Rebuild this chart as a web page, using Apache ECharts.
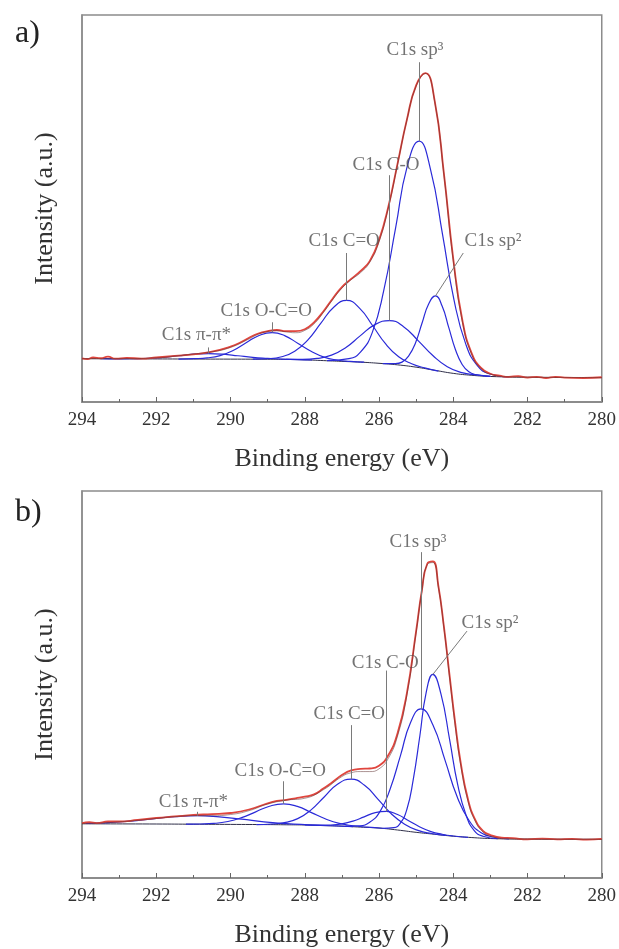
<!DOCTYPE html>
<html>
<head>
<meta charset="utf-8">
<script src="https://cdn.jsdelivr.net/npm/echarts@6/dist/echarts.min.js"></script>
<style>
  html, body { margin: 0; padding: 0; background: #fff; }
  #chart { width: 619px; height: 949px; }
</style>
</head>
<body>
<div id="chart"></div>
<script>
// ---------- C1s XPS spectra: binding energy (eV) vs intensity (a.u.) ----------

// Panel a)
const rawA = [[280, 6.4],[280.5, 6.2],[281, 6.3],[281.25, 6.5],[281.5, 6.2],[281.75, 6.5],[282, 6.3],[282.25, 6.7],[282.5, 6.5],[282.75, 6.8],[283, 7.3],[283.25, 8.8],[283.5, 12.5],[283.75, 20.9],[284, 37.0],[284.25, 58.9],[284.5, 77.8],[284.75, 85.0],[285, 81.8],[285.25, 72.9],[285.5, 61.6],[285.75, 50.4],[286, 41.8],[286.25, 36.4],[286.5, 33.8],[286.75, 31.8],[287, 29.7],[287.25, 26.7],[287.5, 23.4],[287.75, 20.6],[288, 18.8],[288.25, 18.3],[288.5, 18.3],[288.75, 18.6],[289, 18.3],[289.25, 17.7],[289.5, 16.6],[289.75, 15.3],[290, 14.3],[290.5, 13.0],[291, 12.3],[291.5, 11.9],[292, 11.5],[292.4, 11.2],[292.8, 11.4],[293.1, 11.2],[293.3, 11.7],[293.5, 11.3],[293.7, 11.5],[293.85, 11.1],[294, 11.3]];
const envA = [[280, 6.3],[281, 6.35],[282, 6.4],[282.5, 6.5],[283, 7.2],[283.25, 8.6],[283.5, 12.2],[283.75, 20.5],[284, 36.5],[284.25, 58.6],[284.5, 77.6],[284.75, 84.9],[285, 81.6],[285.25, 72.8],[285.5, 61.4],[285.75, 50.1],[286, 41.4],[286.25, 36.1],[286.5, 33.4],[286.75, 31.6],[287, 29.4],[287.25, 26.4],[287.5, 23.1],[287.75, 20.2],[288, 18.5],[288.25, 17.9],[288.5, 18.1],[288.75, 18.4],[289, 18.2],[289.25, 17.5],[289.5, 16.3],[290, 14.1],[290.5, 12.96],[291, 12.4],[291.5, 11.85],[292, 11.4],[293, 11.2],[294, 11.2]];
const bgA = [[280, 6.3],[282, 6.4],[283, 6.6],[283.5, 6.9],[284, 7.4],[284.5, 8.2],[285, 9.0],[285.5, 9.6],[286, 10.0],[286.5, 10.3],[287, 10.5],[287.5, 10.7],[288, 10.9],[288.5, 11.0],[289, 11.05],[291, 11.1],[294, 11.2]];
const sp3A = [[282.5, 6.5],[283.03, 7.3],[283.35, 9.4],[283.66, 14.9],[283.98, 26.4],[284.29, 43.4],[284.61, 60.0],[284.92, 67.4],[285.24, 60.9],[285.55, 45.1],[285.87, 28.9],[286.18, 18.0],[286.5, 12.9],[286.81, 11.2],[287.4, 10.7]];
const sp2A = [[283.0, 6.6],[283.4, 7.1],[283.58, 7.8],[283.76, 9.7],[283.94, 13.5],[284.12, 19.2],[284.3, 24.8],[284.48, 27.4],[284.66, 25.4],[284.84, 20.4],[285.02, 15.2],[285.2, 11.9],[285.38, 10.3],[285.56, 9.9],[285.9, 9.9]];
const coA = [[283.0, 6.6],[283.38, 7.0],[283.77, 7.6],[284.16, 9.1],[284.55, 12.0],[284.94, 15.8],[285.33, 19.4],[285.72, 21.05],[286.11, 20.0],[286.5, 17.15],[286.89, 14.1],[287.28, 12.1],[287.67, 11.25],[288.06, 11.0],[288.5, 11.0]];
const cdoA = [[284.4, 8.0],[284.77, 8.8],[285.12, 9.9],[285.47, 11.7],[285.82, 15.0],[286.17, 19.7],[286.52, 24.2],[286.87, 26.25],[287.22, 24.5],[287.57, 20.3],[287.92, 16.0],[288.27, 13.1],[288.62, 11.7],[288.97, 11.2],[289.4, 11.1]];
const ocoA = [[286.4, 10.3],[286.78, 10.5],[287.13, 10.85],[287.48, 11.6],[287.83, 13.1],[288.18, 15.1],[288.53, 17.1],[288.88, 17.95],[289.23, 17.2],[289.58, 15.3],[289.93, 13.3],[290.28, 12.0],[290.63, 11.4],[290.98, 11.2],[291.4, 11.1]];
const piA = [[287.8, 10.85],[288.2, 10.95],[288.6, 11.1],[289.0, 11.3],[289.4, 11.55],[289.8, 11.95],[290.2, 12.35],[290.6, 12.5],[291.0, 12.35],[291.4, 11.95],[291.8, 11.55],[292.2, 11.3],[292.6, 11.2],[293.0, 11.15],[293.5, 11.2]];

// Panel b)
const rawB = [[280, 10.1],[280.4, 9.9],[280.8, 10.1],[281.2, 10.0],[281.6, 10.2],[282, 10.0],[282.4, 10.3],[282.7, 10.4],[283, 11.1],[283.2, 12.2],[283.4, 14.9],[283.6, 20.2],[283.8, 29.8],[283.95, 40.2],[284.1, 52.4],[284.25, 64.8],[284.4, 75.4],[284.55, 81.8],[284.7, 81.2],[284.85, 74.0],[285, 63.8],[285.25, 47.7],[285.5, 37.4],[285.75, 31.7],[286, 29.0],[286.25, 28.3],[286.5, 28.2],[286.75, 27.8],[287, 26.6],[287.25, 24.8],[287.5, 23.1],[287.75, 21.6],[288, 21.0],[288.25, 20.6],[288.5, 20.2],[288.75, 19.9],[289, 19.3],[289.5, 17.7],[290, 16.8],[290.5, 16.5],[291, 16.3],[291.5, 15.9],[292, 15.5],[292.5, 15.0],[293, 14.6],[293.3, 14.6],[293.6, 14.2],[293.8, 14.4],[294, 14.2]];
const envB = [[280, 10.0],[281, 10.0],[282, 10.05],[282.5, 10.1],[283, 10.8],[283.2, 11.9],[283.4, 14.5],[283.6, 19.7],[283.8, 29.2],[283.95, 39.5],[284.1, 51.9],[284.25, 64.5],[284.4, 75.1],[284.55, 81.5],[284.7, 81.0],[284.85, 73.8],[285, 63.4],[285.25, 47.2],[285.5, 36.7],[285.75, 30.9],[286, 28.2],[286.25, 27.5],[286.5, 27.5],[286.75, 27.2],[287, 26.2],[287.5, 22.8],[288, 20.6],[288.5, 20.1],[289, 19.1],[289.5, 17.4],[290, 16.4],[290.5, 16.1],[291, 16.1],[291.5, 15.85],[292, 15.4],[292.5, 14.9],[293, 14.5],[293.5, 14.2],[294, 14.1]];
const bgB = [[280, 10.0],[282, 10.05],[282.5, 10.1],[283, 10.2],[283.5, 10.45],[284, 10.8],[284.5, 11.3],[285, 11.8],[285.5, 12.4],[286, 12.9],[286.5, 13.15],[287, 13.4],[287.5, 13.55],[288, 13.7],[288.5, 13.75],[289, 13.8],[290, 13.85],[291, 13.9],[292, 13.95],[294, 14.0]];
const sp3B = [[282.5, 10.1],[282.92, 10.6],[283.25, 11.7],[283.57, 14.8],[283.9, 21.1],[284.22, 30.4],[284.55, 39.6],[284.87, 43.7],[285.15, 40.2],[285.42, 31.7],[285.7, 23.0],[285.97, 17.2],[286.25, 14.4],[286.52, 13.5],[286.9, 13.4]];
const sp2B = [[282.8, 10.15],[283.2, 10.8],[283.43, 12.2],[283.65, 16.1],[283.88, 24.1],[284.1, 35.9],[284.33, 47.5],[284.55, 52.6],[284.73, 47.9],[284.9, 36.7],[285.08, 25.3],[285.25, 17.7],[285.43, 14.1],[285.6, 13.0],[285.9, 12.8]];
const coB = [[283.6, 10.5],[284.0, 10.85],[284.3, 11.3],[284.6, 12.0],[284.9, 13.2],[285.2, 14.8],[285.5, 16.4],[285.8, 17.2],[286.1, 16.9],[286.4, 15.8],[286.7, 14.7],[287.0, 14.0],[287.3, 13.7],[287.6, 13.65],[288.0, 13.7]];
const cdoB = [[284.2, 11.0],[284.59, 11.5],[284.95, 12.3],[285.31, 13.9],[285.67, 16.6],[286.03, 20.4],[286.39, 23.95],[286.75, 25.55],[287.11, 24.3],[287.47, 21.0],[287.83, 17.6],[288.19, 15.35],[288.55, 14.3],[288.91, 13.95],[289.3, 13.8]];
const ocoB = [[285.9, 12.85],[286.32, 13.15],[286.7, 13.5],[287.07, 14.1],[287.45, 15.3],[287.82, 16.9],[288.2, 18.5],[288.57, 19.15],[288.95, 18.55],[289.32, 17.1],[289.7, 15.6],[290.07, 14.6],[290.45, 14.1],[290.82, 13.95],[291.2, 13.9]];
const piB = [[286.7, 13.3],[287.3, 13.5],[287.9, 13.75],[288.5, 14.05],[289.1, 14.5],[289.7, 15.2],[290.3, 15.8],[290.9, 16.1],[291.5, 15.85],[292.1, 15.3],[292.7, 14.7],[293.3, 14.3],[293.9, 14.1]];

// Peak labels: text, text anchor (eV, a.u.), top end of the leader line (eV, a.u.)
const peakNames = ['C1s sp\u00B3', 'C1s C-O', 'C1s C=O', 'C1s sp\u00B2', 'C1s O-C=O', 'C1s \u03C0-\u03C0*'];
const labelAtA = [[285.03, 90.9], [285.81, 61.2], [286.94, 41.5], [282.93, 41.5], [289.04, 23.4], [290.92, 17.2]];
const leaderTopA = [[284.92, 87.8], [285.72, 58.6], [286.87, 38.5], [283.73, 38.5], [288.88, 20.6], [290.6, 14.1]];
const labelAtB = [[284.95, 86.7], [285.83, 55.6], [286.8, 42.3], [283.01, 65.8], [288.66, 27.6], [291.0, 19.6]];
const leaderTopB = [[284.87, 84.2], [285.8, 53.6], [286.75, 39.5], [283.63, 63.8], [288.57, 25.0], [290.9, 17.1]];

const xTicks = { min: 280, max: 294, step: 2 };
const panelTags = ['a)', 'b)'];

// ---------- drawing ----------
const SERIF = 'Liberation Serif';
const FRAME = '#8c8c8c';
const peakOf = arr => arr.reduce((m, p) => (p[1] > m[1] ? p : m));

const panels = [
  { raw: rawA, env: envA, bg: bgA, comps: [sp3A, coA, cdoA, sp2A, ocoA, piA], labelAt: labelAtA, leaderTop: leaderTopA },
  { raw: rawB, env: envB, bg: bgB, comps: [sp3B, coB, cdoB, sp2B, ocoB, piB], labelAt: labelAtB, leaderTop: leaderTopB }
];

const grids = [
  { left: 82, top: 15, width: 520, height: 387 },
  { left: 82, top: 491, width: 520, height: 392 }
];

const xAxes = grids.map((g, i) => ({
  type: 'value', gridIndex: i, inverse: true,
  min: xTicks.min, max: xTicks.max, interval: xTicks.step,
  name: 'Binding energy (eV)', nameLocation: 'middle', nameGap: 44,
  nameTextStyle: { fontFamily: SERIF, fontSize: 26, color: '#333' },
  axisLine: { show: true, onZero: false, lineStyle: { color: FRAME, width: 2 } },
  axisTick: { show: true, inside: true, length: 5, lineStyle: { color: '#666', width: 1 } },
  minorTick: { show: true, splitNumber: 2, length: 3, lineStyle: { color: '#666', width: 1 } },
  axisLabel: { fontFamily: SERIF, fontSize: 19, color: '#333', margin: 9 },
  splitLine: { show: false }
}));

const yAxes = grids.map((g, i) => ({
  type: 'value', gridIndex: i, min: 0, max: 100,
  name: 'Intensity (a.u.)', nameLocation: 'middle', nameGap: 24,
  nameTextStyle: { fontFamily: SERIF, fontSize: 26, color: '#333' },
  axisLine: { show: true, lineStyle: { color: FRAME, width: 1.5 } },
  axisTick: { show: false }, axisLabel: { show: false }, splitLine: { show: false }
}));

const series = [];
panels.forEach((p, i) => {
  const ax = { xAxisIndex: i, yAxisIndex: i };
  const curve = (data, color, width, z, opacity) => ({
    type: 'line', ...ax, data, smooth: 0.5,
    showSymbol: false, silent: true, z,
    lineStyle: { color, width, opacity: opacity == null ? 1 : opacity }
  });
  series.push(curve(p.bg, '#2e2e48', 1, 2));
  p.comps.forEach(c => series.push(curve(c, '#2a2ad8', 1.2, 3)));
  series.push(curve(p.raw, '#e0463e', 1.8, 4));
  series.push(curve(p.env, '#5a2a2a', 1, 5, 0.5));
  // leader lines from each component's peak up to its label
  series.push({
    type: 'lines', coordinateSystem: 'cartesian2d', ...ax, silent: true, z: 6,
    lineStyle: { color: '#7a7a7a', width: 1, opacity: 1 },
    data: p.comps.map((c, k) => ({ coords: [peakOf(c), p.leaderTop[k]] }))
  });
  series.push({
    type: 'scatter', ...ax, symbolSize: 1, silent: true, z: 7,
    itemStyle: { color: 'rgba(0,0,0,0)' },
    label: { show: true, position: 'inside', formatter: '{b}', fontFamily: SERIF, fontSize: 19, color: '#505050' },
    labelLayout: { hideOverlap: false },
    data: p.labelAt.map((v, k) => ({ name: peakNames[k], value: v }))
  });
});

const chart = echarts.init(document.getElementById('chart'));
chart.setOption({
  animation: false,
  backgroundColor: '#fff',
  title: panelTags.map((t, i) => ({
    text: t, left: 10, top: i === 0 ? 13 : 492,
    textStyle: { fontFamily: SERIF, fontSize: 32, fontWeight: 'normal', color: '#222' }
  })),
  grid: grids.map(g => ({ ...g, show: true, borderColor: FRAME, borderWidth: 1.5, backgroundColor: 'transparent' })),
  xAxis: xAxes,
  yAxis: yAxes,
  series
});
</script>
</body>
</html>
